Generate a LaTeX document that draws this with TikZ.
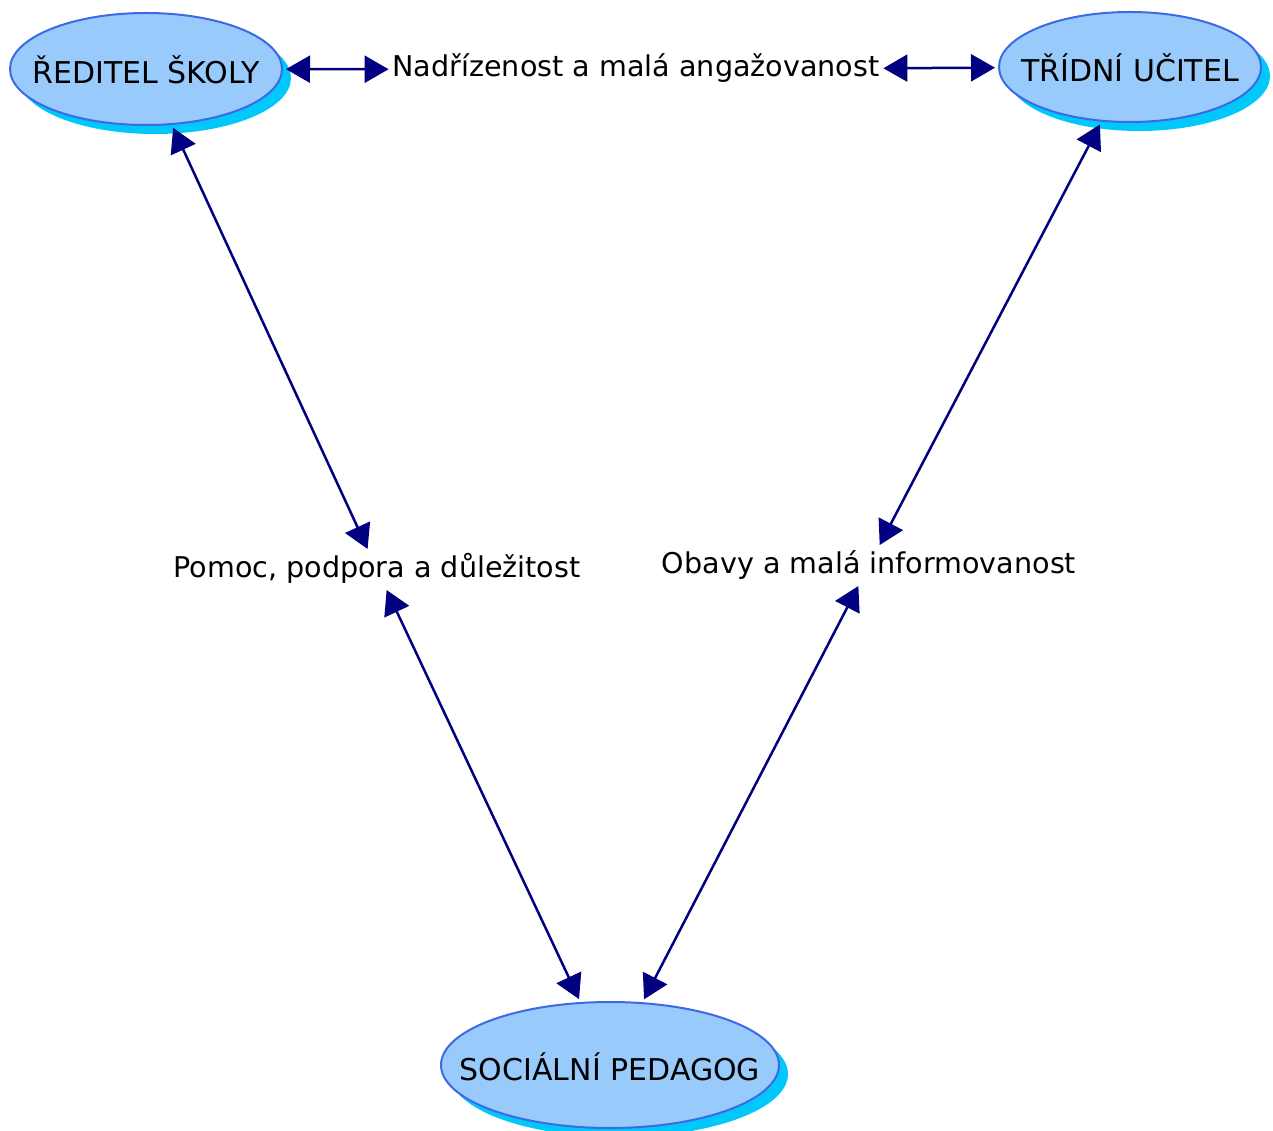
\documentclass[tikz,border=0pt]{standalone}
\usepackage{fontspec}
\setmainfont{DejaVu Sans}
\usetikzlibrary{shapes.geometric,arrows.meta,shadows}
\definecolor{ellfill}{RGB}{153,202,252}
\definecolor{elldraw}{RGB}{62,104,228}
\definecolor{ellshadow}{RGB}{0,200,250}
\definecolor{navyarrow}{RGB}{0,0,128}
\begin{document}
\begin{tikzpicture}[x=1pt,y=-1pt,
  role/.style={ellipse, draw=elldraw, line width=2pt, fill=ellfill, inner sep=0pt, outer sep=4pt,
    font=\fontsize{30}{34}\selectfont, text height=30pt, text depth=0pt,
    drop shadow={shadow xshift=9pt, shadow yshift=-9pt, fill=ellshadow, opacity=1}},
  lab/.style={font=\fontsize{28.6}{32}\selectfont, inner xsep=4pt, inner ysep=7pt,
    text height=21pt, text depth=6pt, outer sep=0pt, anchor=base},
  link/.style={navyarrow, line width=2.5pt,
    {Triangle[length=24pt,width=27pt]}-{Triangle[length=24pt,width=27pt]}}]
\useasboundingbox (0,0) rectangle (1273,1131);
\node[role, minimum width=272pt, minimum height=112pt] (red) at (146,69) {\makebox[0pt]{ŘEDITEL ŠKOLY}};
\node[role, minimum width=262pt, minimum height=110pt] (tri) at (1130,67) {\makebox[0pt]{TŘÍDNÍ UČITEL}};
\node[role, minimum width=338pt, minimum height=126pt] (soc) at (610,1065) {\makebox[0pt]{SOCIÁLNÍ PEDAGOG}};
\node[lab] (nad) at (636,77) {Nadřízenost a malá angažovanost};
\node[lab] (pom) at (377,577) {Pomoc, podpora a důležitost};
\node[lab] (oba) at (869,573) {Obavy a malá informovanost};
\draw[link] (red) -- (nad);
\draw[link] (nad) -- (tri);
\draw[link] (red) -- (pom);
\draw[link] (pom) -- (soc);
\draw[link] (tri) -- (oba);
\draw[link] (oba) -- (soc);
\end{tikzpicture}
\end{document}
